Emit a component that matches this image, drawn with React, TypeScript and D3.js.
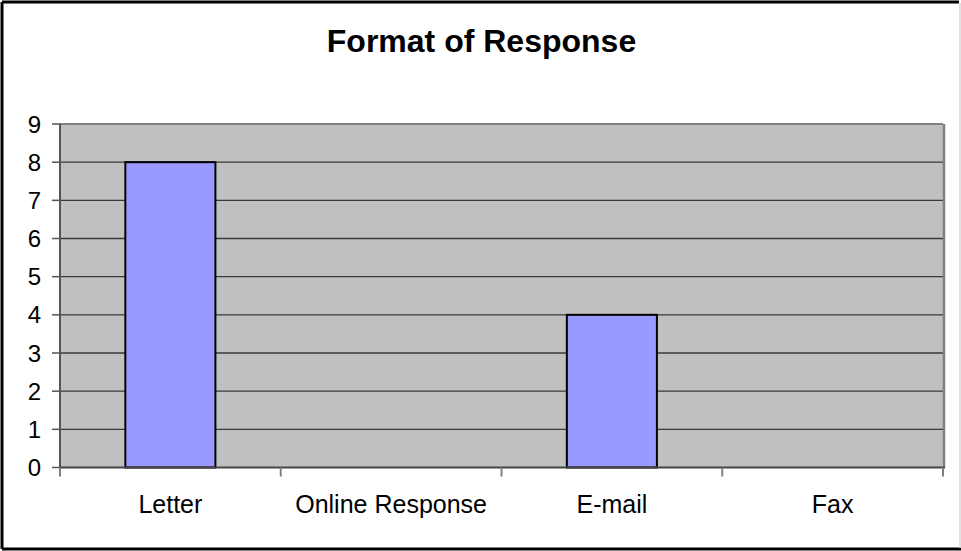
import * as d3 from 'd3';

const categories = ['Letter', 'Online Response', 'E-mail', 'Fax'];
const counts = [8, 0, 4, 0];
const yTicks = [0, 1, 2, 3, 4, 5, 6, 7, 8, 9];
const title = 'Format of Response';

const W = 961;
const H = 551;
const margin = { top: 124, right: 18, bottom: 83.5, left: 60 };
const font = '"Liberation Sans", Arial, sans-serif';

export default function App() {
  const innerW = W - margin.left - margin.right;
  const innerH = H - margin.top - margin.bottom;

  const x = d3.scaleBand().domain(categories).range([0, innerW]).padding(0);
  const y = d3.scaleLinear().domain([0, 9]).range([innerH, 0]);
  const barW = x.bandwidth() * 0.408;

  const bars = categories
    .map((c, i) => ({ c, v: counts[i] }))
    .filter((d) => d.v > 0);

  const boundaries = d3.range(categories.length + 1).map((i) => i * x.step());

  return (
    <svg
      width={W}
      height={H}
      style={{ position: 'absolute', left: 0, top: 0, display: 'block', background: '#fff' }}
    >
      {/* outer frame */}
      <line x1={2} y1={2} x2={959} y2={2} stroke="#000" strokeWidth={3} />
      <line x1={2} y1={2} x2={2} y2={549} stroke="#000" strokeWidth={3} />
      <line x1={2} y1={549} x2={961} y2={549} stroke="#000" strokeWidth={3} />
      <line x1={960} y1={3} x2={960} y2={548} stroke="#d8d8d8" strokeWidth={1.5} />

      <text
        x={481.5}
        y={52}
        textAnchor="middle"
        fontFamily={font}
        fontWeight="bold"
        fontSize={32}
        fill="#000"
      >
        {title}
      </text>

      <g transform={`translate(${margin.left},${margin.top})`}>
        <rect x={0} y={0} width={innerW} height={innerH} fill="#c0c0c0" />
        {yTicks.slice(1, -1).map((t) => (
          <line key={t} x1={0} x2={innerW} y1={y(t)} y2={y(t)} stroke="#3a3a3a" strokeWidth={1.3} />
        ))}
        <line x1={0} x2={innerW} y1={y(9)} y2={y(9)} stroke="#808080" strokeWidth={2} />
        <line x1={innerW + 1} x2={innerW + 1} y1={0} y2={innerH} stroke="#808080" strokeWidth={2.5} />

        {bars.map((d) => (
          <rect
            key={d.c}
            x={(x(d.c) as number) + (x.bandwidth() - barW) / 2}
            y={y(d.v)}
            width={barW}
            height={innerH - y(d.v)}
            fill="#9999ff"
            stroke="#000"
            strokeWidth={2}
          />
        ))}

        {/* axes */}
        <line x1={0} x2={0} y1={0} y2={innerH + 2} stroke="#555" strokeWidth={2} />
        <line x1={0} x2={innerW + 2} y1={innerH} y2={innerH} stroke="#444" strokeWidth={2} />
        {yTicks.map((t) => (
          <g key={t}>
            <line x1={-8} x2={0} y1={y(t)} y2={y(t)} stroke="#555" strokeWidth={1.5} />
            <text
              x={-19}
              y={y(t)}
              dy="0.36em"
              textAnchor="end"
              fontFamily={font}
              fontSize={24}
              fill="#000"
            >
              {t}
            </text>
          </g>
        ))}
        {boundaries.map((b, i) => (
          <line key={i} x1={b} x2={b} y1={innerH} y2={innerH + 9} stroke="#808080" strokeWidth={2} />
        ))}
        {categories.map((c) => (
          <text
            key={c}
            x={(x(c) as number) + x.bandwidth() / 2}
            y={innerH + 45.5}
            textAnchor="middle"
            fontFamily={font}
            fontSize={25}
            fill="#000"
          >
            {c}
          </text>
        ))}
      </g>
    </svg>
  );
}
